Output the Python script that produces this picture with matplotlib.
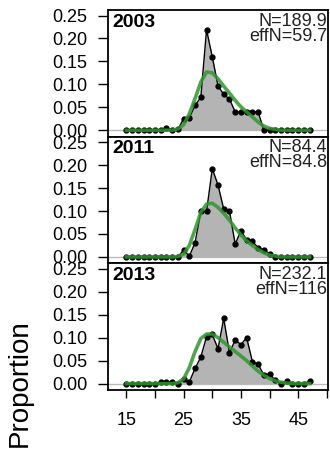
import numpy as np
import matplotlib
matplotlib.use('Agg')
import matplotlib.pyplot as plt

plt.rcParams['font.family'] = ['Liberation Sans', 'DejaVu Sans']

# length bins (cm)
lengths = np.arange(15, 48)

years = ['2003', '2011', '2013']
n_labels = ['N=189.9', 'N=84.4', 'N=232.1']
effn_labels = ['effN=59.7', 'effN=84.8', 'effN=116']

# observed proportions per bin, 15..47
obs_2003 = [0, 0, 0, 0, 0, 0, 0, 0.004, 0, 0.002, 0.025, 0.027, 0.054, 0.072, 0.219,
            0.160, 0.097, 0.078, 0.068, 0.040, 0.040, 0.040, 0.040, 0.040, 0,
            0, 0, 0, 0, 0, 0, 0, 0]
obs_2011 = [0, 0, 0, 0, 0, 0, 0, 0, 0, 0, 0.015, 0.002, 0.031, 0.099, 0.099,
            0.192, 0.157, 0.104, 0.100, 0.028, 0.057, 0.037, 0.034, 0.020, 0.015,
            0.007, 0, 0, 0, 0, 0, 0, 0]
obs_2013 = [0, 0, 0, 0, 0, 0, 0.003, 0.003, 0.003, 0, 0.009, 0.004, 0.033, 0.058, 0.102,
            0.107, 0.076, 0.142, 0.067, 0.095, 0.085, 0.100, 0.048, 0.042, 0.019,
            0.021, 0.007, 0, 0.006, 0, 0, 0, 0.005]

# expected (model fit) proportions
exp_2003 = [0, 0, 0, 0, 0, 0, 0, 0, 0, 0.003, 0.012, 0.036, 0.069, 0.105, 0.127,
            0.125, 0.112, 0.096, 0.081, 0.065, 0.051, 0.040, 0.029, 0.018, 0.009,
            0.004, 0.002, 0, 0, 0, 0, 0, 0]
exp_2011 = [0, 0, 0, 0, 0, 0, 0, 0, 0, 0.001, 0.006, 0.025, 0.060, 0.097, 0.115,
            0.117, 0.108, 0.095, 0.080, 0.063, 0.048, 0.035, 0.025, 0.016, 0.009,
            0.004, 0.002, 0, 0, 0, 0, 0, 0]
exp_2013 = [0, 0, 0, 0, 0, 0, 0, 0, 0, 0.002, 0.010, 0.035, 0.070, 0.098, 0.108,
            0.108, 0.100, 0.090, 0.080, 0.070, 0.060, 0.050, 0.038, 0.027, 0.018,
            0.011, 0.006, 0.003, 0.001, 0, 0, 0, 0]

observed = [obs_2003, obs_2011, obs_2013]
expected = [exp_2003, exp_2011, exp_2013]

fig = plt.figure(figsize=(3.3, 4.5), dpi=100)
gs = fig.add_gridspec(3, 1, left=108/330, right=328/330, top=1-10/450,
                      bottom=1-390/450, hspace=0)

for i in range(3):
    ax = fig.add_subplot(gs[i])
    obs = np.array(observed[i])
    ex = np.array(expected[i])

    ax.axhline(0, color='#bbbbbb', lw=1, zorder=1)
    ax.fill_between(lengths, 0, obs, color='#b4b4b4', lw=0, zorder=2)
    ax.plot(lengths, obs, color='black', lw=1, marker='o', ms=3.5, zorder=3)
    ax.plot(lengths, ex, color='#2f962f', lw=2.6, alpha=0.85, zorder=4)

    ax.set_xlim(11.8, 50.2)
    ax.set_ylim(-0.014, 0.262)
    ax.set_yticks([0, 0.05, 0.10, 0.15, 0.20, 0.25])
    ax.set_yticklabels(['0.00', '0.05', '0.10', '0.15', '0.20', '0.25'])
    ax.tick_params(axis='y', length=7, width=1, pad=8, labelsize=13)
    for s in ax.spines.values():
        s.set_linewidth(1.3)

    if i < 2:
        ax.set_xticks([])
    else:
        ax.set_xticks(range(15, 51, 5))
        ax.set_xticklabels(['15', '', '25', '', '35', '', '45', ''])
        ax.tick_params(axis='x', length=6, width=1, pad=10, labelsize=13)

    ax.text(0.02, 0.97, years[i], transform=ax.transAxes, ha='left', va='top',
            fontsize=14, fontweight='bold')
    ax.text(0.995, 0.98, n_labels[i], transform=ax.transAxes, ha='right', va='top',
            fontsize=13, color='#222222')
    ax.text(0.995, 0.86, effn_labels[i], transform=ax.transAxes, ha='right', va='top',
            fontsize=13, color='#222222')

fig.text(20/330, 1-383/450, 'Proportion', rotation=90, ha='center', va='center',
         fontsize=20)

plt.savefig('out.png', dpi=100)
